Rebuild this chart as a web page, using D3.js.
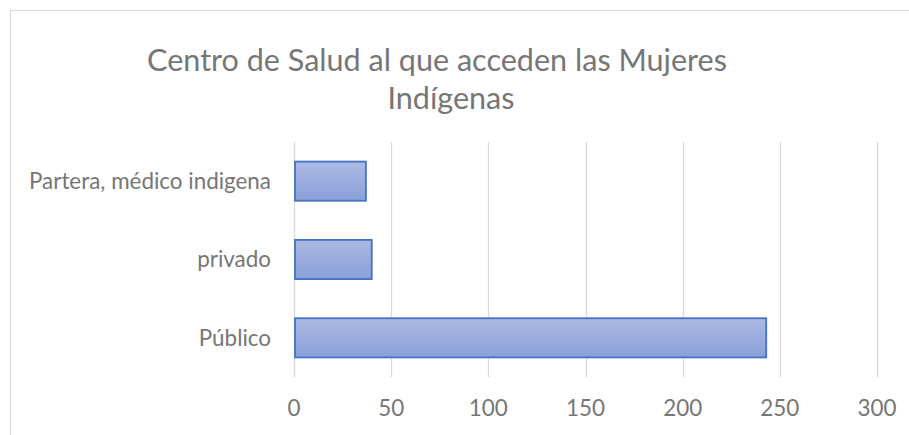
<!DOCTYPE html>
<html>
<head>
  <meta charset="utf-8">
  <title>Centro de Salud</title>
  <style>
    body { margin: 0; background: #fff; }
    text { font-family: Lato, "Open Sans", sans-serif; fill: #767676; }
  </style>
</head>
<body>
<div id="chart"></div>
<script src="https://cdnjs.cloudflare.com/ajax/libs/d3/7.8.5/d3.min.js"></script>
<script>
  // data
  var categories = ["Partera, médico indigena", "privado", "Público"];
  var values = [37, 40, 243];
  var xTicks = [0, 50, 100, 150, 200, 250, 300];
  var titleLines = ["Centro de Salud al que acceden las Mujeres", "Indígenas"];

  var w = 909, h = 435;
  var plot = { left: 294, right: 877, top: 142, bottom: 377 };

  var svg = d3.select("#chart").append("svg")
    .attr("width", w)
    .attr("height", h);

  // fit a text element to a given width
  function fitWidth(sel, target) {
    sel.each(function () {
      var fs = parseFloat(d3.select(this).attr("font-size"));
      var len = this.getComputedTextLength();
      d3.select(this).attr("font-size", (fs * target / len).toFixed(2) + "px");
    });
  }

  // chart border (cut off on the right and bottom)
  svg.append("rect")
    .attr("x", 10.5).attr("y", 10.5)
    .attr("width", 1000).attr("height", 1000)
    .attr("fill", "none")
    .attr("stroke", "#d9d9d9")
    .attr("stroke-width", 1);

  var x = d3.scaleLinear()
    .domain([0, 300])
    .range([plot.left, plot.right]);

  var y = d3.scaleBand()
    .domain(categories)
    .range([plot.top, plot.bottom])
    .paddingInner(0.5)
    .paddingOuter(0.25);

  // gridlines
  svg.append("g")
    .selectAll("line")
    .data(xTicks)
    .enter()
    .append("line")
    .attr("x1", function (d) { return Math.round(x(d)) + 0.5; })
    .attr("x2", function (d) { return Math.round(x(d)) + 0.5; })
    .attr("y1", plot.top)
    .attr("y2", plot.bottom)
    .attr("stroke", "#d9d9d9")
    .attr("stroke-width", 1.3);

  // gradient for bars
  var grad = svg.append("defs").append("linearGradient")
    .attr("id", "barFill")
    .attr("x1", 0).attr("y1", 0).attr("x2", 0).attr("y2", 1);
  grad.append("stop").attr("offset", "0%").attr("stop-color", "#abb9e3");
  grad.append("stop").attr("offset", "100%").attr("stop-color", "#8aa0d9");

  // bars
  svg.append("g")
    .selectAll("rect")
    .data(values)
    .enter()
    .append("rect")
    .attr("x", x(0) + 1)
    .attr("y", function (d, i) { return y(categories[i]); })
    .attr("width", function (d) { return x(d) - x(0) - 1; })
    .attr("height", y.bandwidth())
    .attr("fill", "url(#barFill)")
    .attr("stroke", "#4472c4")
    .attr("stroke-width", 1.8);

  // category labels
  var catLabels = svg.append("g")
    .selectAll("text")
    .data(categories)
    .enter()
    .append("text")
    .text(function (d) { return d; })
    .attr("x", 271)
    .attr("y", function (d) { return y(d) + y.bandwidth() / 2; })
    .attr("dy", "0.35em")
    .attr("text-anchor", "end")
    .attr("font-size", "20px");
  fitWidth(catLabels.filter(function (d, i) { return i === 0; }), 242);
  var labelSize = catLabels.filter(function (d, i) { return i === 0; }).attr("font-size");
  catLabels.attr("font-size", labelSize);

  // x tick labels
  svg.append("g")
    .selectAll("text")
    .data(xTicks)
    .enter()
    .append("text")
    .text(function (d) { return d; })
    .attr("x", function (d) { return x(d); })
    .attr("y", 408)
    .attr("dy", "0.35em")
    .attr("text-anchor", "middle")
    .attr("font-size", labelSize);

  // title
  var t1 = svg.append("text")
    .text(titleLines[0])
    .attr("x", 437)
    .attr("y", 71)
    .attr("text-anchor", "middle")
    .attr("font-size", "28px");
  fitWidth(t1, 580);
  svg.append("text")
    .text(titleLines[1])
    .attr("x", 451)
    .attr("y", 109)
    .attr("text-anchor", "middle")
    .attr("font-size", t1.attr("font-size"));
</script>
</body>
</html>
